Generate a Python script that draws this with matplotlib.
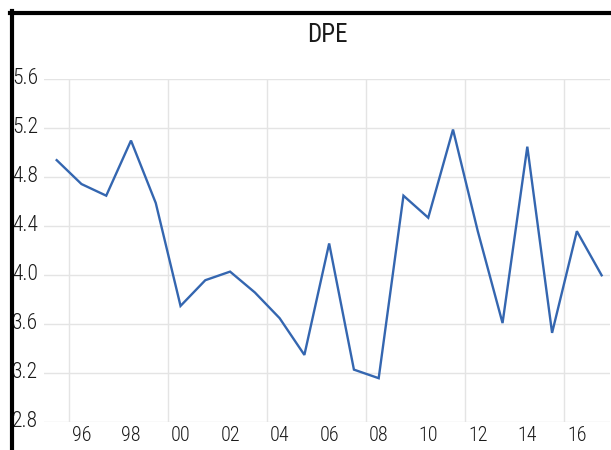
import numpy as np
import matplotlib.pyplot as plt
from matplotlib.lines import Line2D
from matplotlib.ticker import FixedLocator
from matplotlib.transforms import ScaledTranslation

plt.rcParams['font.family'] = ['Roboto Condensed', 'Liberation Sans Narrow', 'Roboto', 'DejaVu Sans']
plt.rcParams['font.weight'] = 'light'

# Data
years = np.arange(1995, 2018)
dpe = [4.94, 4.745, 4.65, 5.10, 4.59, 3.75, 3.96, 4.03, 3.86, 3.65, 3.35, 4.26,
       3.23, 3.16, 4.65, 4.47, 5.19, 4.36, 3.61, 5.05, 3.53, 4.36, 4.00]
label_years = np.arange(1996, 2017, 2)
label_text = [f"{y % 100:02d}" for y in label_years]
y_ticks = [2.8, 3.2, 3.6, 4.0, 4.4, 4.8, 5.2, 5.6]

W, H = 611, 450
fig = plt.figure(figsize=(W / 100, H / 100), dpi=100)

# Axes placed in pixel terms
left, right, top, bottom = 44.3, 610.3, 79.3, 422.3
ax = fig.add_axes([left / W, 1 - bottom / H, (right - left) / W, (bottom - top) / H])

ax.plot(years, dpe, color='#3466b0', lw=1.7, solid_joinstyle='miter')

ax.set_xlim(1994.5, 1994.5 + (right - left) / 24.77)
ax.set_ylim(2.8, 5.6)

# Ticks and labels
ax.set_yticks(y_ticks)
ax.set_yticklabels([f"{v:.1f}" for v in y_ticks])
ax.set_xticks(label_years)
ax.set_xticklabels(label_text)
ax.xaxis.set_minor_locator(FixedLocator(np.arange(1995.5, 2018, 4)))
ax.tick_params(axis='y', which='both', length=0, labelsize=15.5, colors='#1a1a1a')
ax.tick_params(axis='x', which='both', length=0, labelsize=14.5, colors='#1a1a1a')
ax.tick_params(axis='y', pad=(left - 12) * 0.72)
ax.tick_params(axis='x', pad=3)
for lab in ax.get_yticklabels():
    lab.set_horizontalalignment('left')
    lab.set_transform(lab.get_transform() + ScaledTranslation(0, 3.5 / 100, fig.dpi_scale_trans))

# Grid
ax.grid(axis='y', which='major', color='#e4e4e4', lw=1)
ax.grid(axis='x', which='minor', color='#e4e4e4', lw=1)
ax.grid(axis='x', which='major', visible=False)
ax.set_axisbelow(True)
for s in ax.spines.values():
    s.set_visible(False)

ax.set_title('DPE', fontsize=18, pad=27, color='#1a1a1a')

# Frame remnants (thick black border at top and left)
fig.add_artist(Line2D([10 / W, 1], [1 - 13 / H, 1 - 13 / H], color='black', lw=3, transform=fig.transFigure))
fig.add_artist(Line2D([12 / W, 12 / W], [0, 1 - 11 / H], color='black', lw=3, transform=fig.transFigure))

fig.savefig('out.png', dpi=100)
